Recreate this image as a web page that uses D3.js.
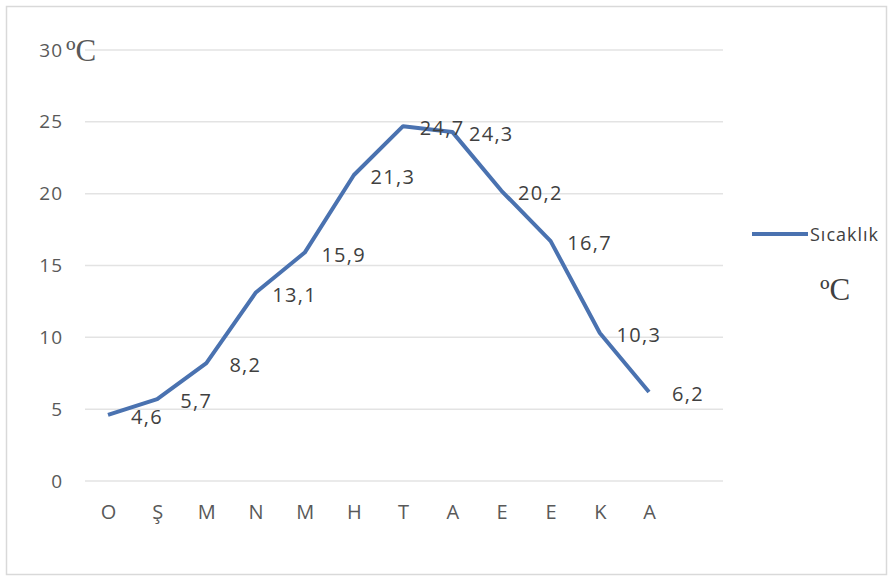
<!DOCTYPE html>
<html>
<head>
<meta charset="utf-8">
<script src="https://cdn.jsdelivr.net/npm/d3@7"></script>
<style>
  body { margin: 0; background: #fff; }
  svg { display: block; }
</style>
</head>
<body>
<svg></svg>
<script>
let months = ["O", "Ş", "M", "N", "M", "H", "T", "A", "E", "E", "K", "A"];
let temps = [4.6, 5.7, 8.2, 13.1, 15.9, 21.3, 24.7, 24.3, 20.2, 16.7, 10.3, 6.2];
let yTicks = [0, 5, 10, 15, 20, 25, 30];
let seriesName = "Sıcaklık";

let w = 888;
let h = 578;
let font = "'Open Sans', 'Noto Sans', sans-serif";
let svg = d3.select("svg").attr("width", w).attr("height", h);

// outer frame
svg.append("rect")
  .attr("x", 6.5).attr("y", 6.5)
  .attr("width", w - 8).attr("height", h - 10)
  .attr("fill", "#fff")
  .attr("stroke", "#d9d9d9")
  .attr("stroke-width", 1.5);

let xScale = d3.scalePoint().domain(d3.range(months.length)).range([108, 649]);
let yScale = d3.scaleLinear().domain([0, 30]).range([481, 50]);

// gridlines
svg.append("g")
  .selectAll("line")
  .data(yTicks)
  .enter()
  .append("line")
  .attr("x1", 85).attr("x2", 723)
  .attr("y1", (d) => yScale(d)).attr("y2", (d) => yScale(d))
  .attr("stroke", "#e3e3e3")
  .attr("stroke-width", 1.5);

// y axis labels
let yAxis = d3.axisLeft(yScale).tickValues(yTicks).tickSize(0).tickPadding(0);
let yg = svg.append("g").attr("transform", "translate(63,0)").call(yAxis);
yg.select(".domain").remove();
yg.attr("font-size", null).attr("font-family", null);
yg.selectAll("text")
  .style("font-family", font)
  .style("font-size", "19px")
  .style("letter-spacing", "1px")
  .attr("fill", "#595959");

// x axis labels
let xAxis = d3.axisBottom(xScale).tickFormat((i) => months[i]).tickSize(0).tickPadding(0);
let xg = svg.append("g").attr("transform", "translate(0,505)").call(xAxis);
xg.select(".domain").remove();
xg.attr("font-size", null).attr("font-family", null);
xg.selectAll("text")
  .style("font-family", font)
  .style("font-size", "20px")
  .attr("fill", "#595959");

// line
let line = d3.line()
  .x((d, i) => xScale(i))
  .y((d) => yScale(d));

svg.append("path")
  .datum(temps)
  .attr("d", line)
  .attr("fill", "none")
  .attr("stroke", "#4a72b0")
  .attr("stroke-width", 4)
  .attr("stroke-linejoin", "round");

// data labels
svg.append("g")
  .selectAll("text")
  .data(temps)
  .enter()
  .append("text")
  .attr("x", (d, i) => xScale(i) + 39)
  .attr("y", (d) => yScale(d) + 9)
  .attr("text-anchor", "middle")
  .style("font-family", font)
  .style("font-size", "20px")
  .style("letter-spacing", "1.3px")
  .attr("fill", "#404040")
  .text((d) => String(d).replace(".", ","));

// legend
svg.append("line")
  .attr("x1", 752).attr("x2", 808)
  .attr("y1", 234).attr("y2", 234)
  .attr("stroke", "#4a72b0")
  .attr("stroke-width", 4);
svg.append("text")
  .attr("x", 810).attr("y", 241)
  .style("font-family", font)
  .style("font-size", "18px")
  .style("letter-spacing", "1px")
  .attr("fill", "#404040")
  .text(seriesName);

// unit labels
svg.append("text")
  .attr("x", 66).attr("y", 61)
  .style("font-family", "'Liberation Serif', serif")
  .style("font-size", "31px")
  .attr("fill", "#595959")
  .text("ºC");
svg.append("text")
  .attr("x", 820).attr("y", 300)
  .style("font-family", "'Liberation Serif', serif")
  .style("font-size", "31px")
  .attr("fill", "#404040")
  .text("ºC");
</script>
</body>
</html>
